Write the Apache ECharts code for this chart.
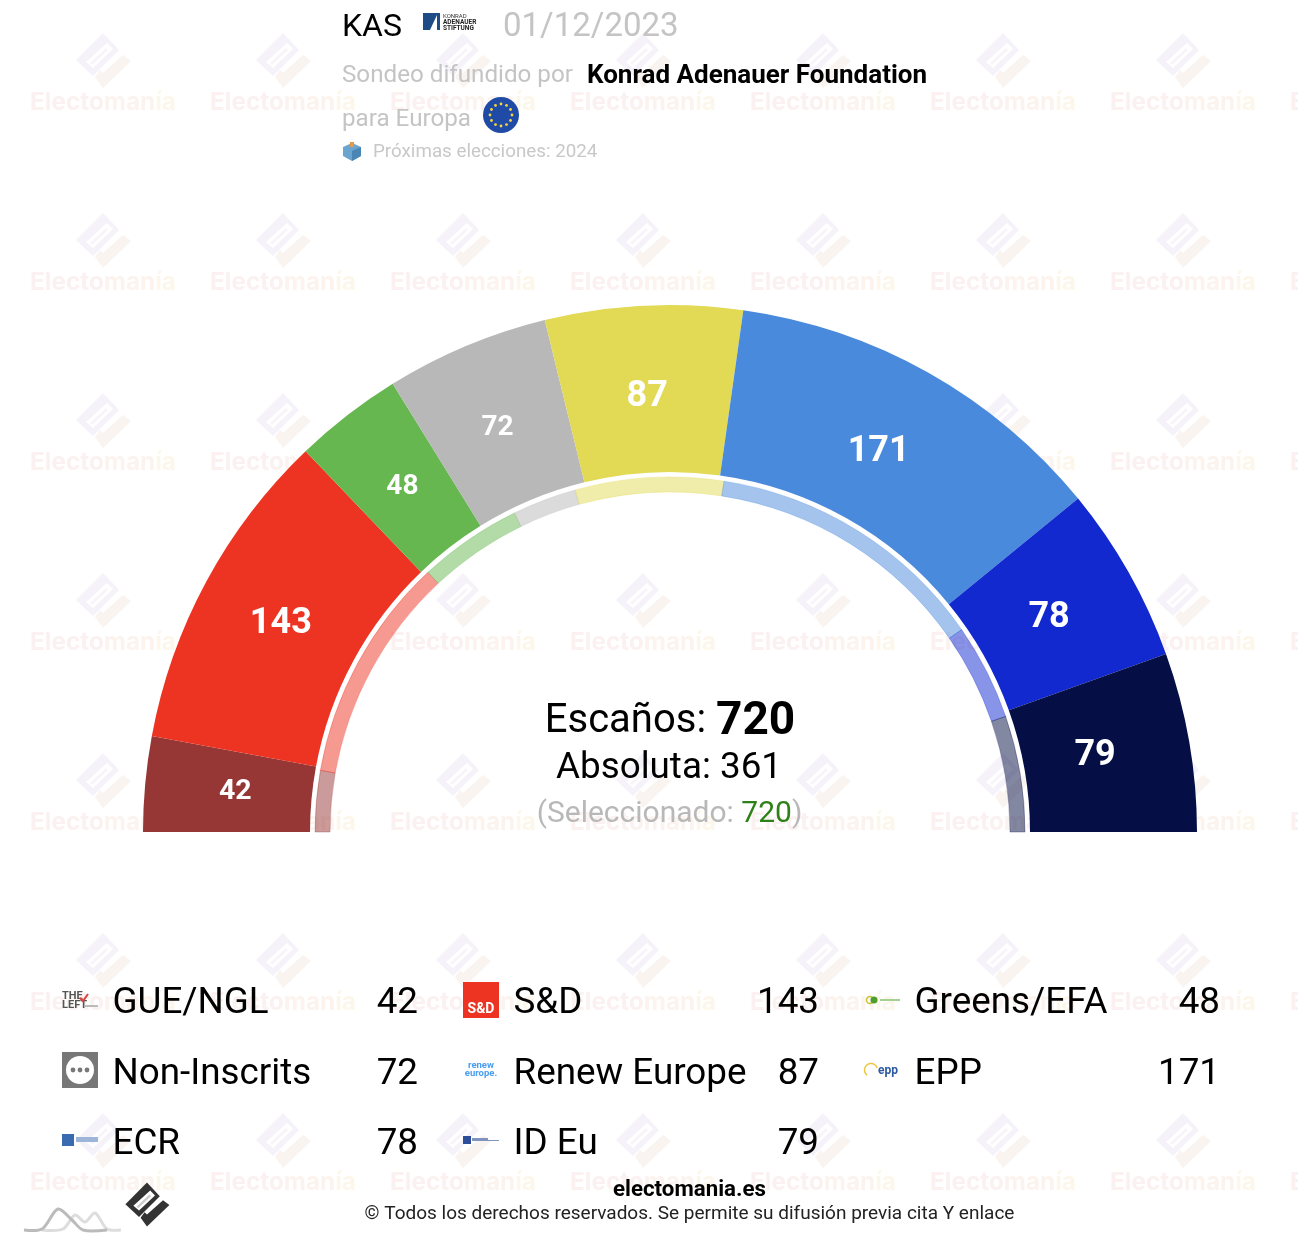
<!DOCTYPE html>
<html><head><meta charset="utf-8">
<style>html,body{margin:0;padding:0;background:#fff}#c{width:1298px;height:1244px}</style>
<script src="https://cdn.jsdelivr.net/npm/echarts@6/dist/echarts.min.js"></script>
</head><body><div id="c"></div>
<script>
const categories = ['GUE/NGL','S&D','Greens/EFA','Non-Inscrits','Renew Europe','EPP','ECR','ID Eu'];
const seats = [42,143,48,72,87,171,78,79];
const ringSeats = [40,148,68,42,97,186,63,76];
const colors = ['#963736','#ED3423','#67B751','#B8B8B8','#E2D955','#4A8ADD','#1229D0','#060F45'];
const labelSizes = [28.5,36,28,28,36,36,36,36];
const labelNudges = [[-1,0],[-6,-1],[-1,-1],[-4,-2],[-1,0],[-5,0],[0,0],[-4,-1]];
const totalSeats = 720, majority = 361, selected = 720;
const FONT = 'Roboto';
const chart = echarts.init(document.getElementById('c'));

function rgba(hex,a){const n=parseInt(hex.slice(1),16);return `rgba(${n>>16},${(n>>8)&255},${n&255},${a})`;}
function poly(points,fill,z){return {type:'polygon',silent:true,z:z,shape:{points},style:{fill}};}
function txt(x,y,text,size,fill,opt){opt=opt||{};return {type:'text',silent:true,z:opt.z==null?5:opt.z,x,y:y+size*0.09,style:{text,fontFamily:FONT,fontSize:size,fill,fontWeight:opt.w||'normal',align:opt.a||'left',verticalAlign:'middle'}};}
function icon(ox,oy,s,c1,c2,c3,z){
  const m=p=>p.map(q=>[ox+q[0]*s,oy+q[1]*s]);
  return [
    poly(m([[0,-68],[16,-51],[-10,-25],[-27,-41]]),c1,z),
    poly(m([[4,-58],[10,-52],[-10,-33],[-17,-39]]),'#fff',z),
    poly(m([[3,-53],[5,-51],[-11,-36],[-13,-38]]),c3,z),
    poly(m([[-8,-24],[0,-13],[28,-40],[20,-46],[0,-28],[-3,-31]]),c2,z)
  ];
}
const g=[];
// watermark grid
const wmRich={a:{fontFamily:'Inter',fontWeight:'bold',fontSize:24.3,fill:'#fbf1f0'},b:{fontFamily:'Inter',fontWeight:'bold',fontSize:24.3,fill:'#fcf3ee'},c:{fontFamily:'Inter',fontWeight:'bold',fontSize:24.3,fill:'#fdf6ea'}};
for(let cy=101;cy<1244;cy+=180){
  for(let cx=103;cx<1400;cx+=180){
    icon(cx,cy,1,'#f5f2f9','#faf4f0','#f8f5fa',0).forEach(e=>g.push(e));
    g.push({type:'text',silent:true,z:0,x:cx,y:cy+1.5,style:{text:'{a|Electo}{b|man}{c|ía}',align:'center',verticalAlign:'middle',rich:wmRich}});
  }
}
// header
g.push(txt(342,25,'KAS',32,'#000'));
g.push({type:'rect',silent:true,z:5,shape:{x:423,y:13,width:17,height:17},style:{fill:'#1d4b85'}});
g.push(poly([[430,30],[437,15],[437,30]],'#fff',6));
g.push(txt(443,16,'KONRAD',6,'#333'));
g.push(txt(443,22,'ADENAUER',6.5,'#222',{w:'bold'}));
g.push(txt(443,28,'STIFTUNG',6.5,'#222',{w:'bold'}));
g.push(txt(503,25,'01/12/2023',33,'#c4c4c4'));
g.push(txt(342,74,'Sondeo difundido por',24.2,'#c4c4c4'));
g.push(txt(587,74,'Konrad Adenauer Foundation',26,'#000',{w:'bold'}));
g.push(txt(342,118,'para Europa',24.2,'#c4c4c4'));
g.push({type:'circle',silent:true,z:5,shape:{cx:501,cy:115,r:18},style:{fill:'#1f4aa6'}});
for(let i=0;i<12;i++){const a=i*Math.PI/6;g.push({type:'circle',silent:true,z:6,shape:{cx:501+11*Math.cos(a),cy:115+11*Math.sin(a),r:1.4},style:{fill:'#f5d63d'}});}
g.push(poly([[343,147],[352,143],[361,147],[361,156],[352,161],[343,156]],'#6aa5cf',5));
g.push(poly([[352,151],[361,147],[361,156],[352,161]],'#4a86b3',5));
g.push({type:'rect',silent:true,z:5,shape:{x:350,y:142,width:4,height:5},style:{fill:'#e59a4a'}});
g.push(txt(373,151,'Próximas elecciones: 2024',18.8,'#c8c8c8'));
// centre
g.push({type:'text',silent:true,z:5,x:670,y:722,style:{text:'{a|Escaños: }{b|'+totalSeats+'}',align:'center',verticalAlign:'middle',rich:{a:{fontFamily:FONT,fontSize:40,fill:'#000'},b:{fontFamily:FONT,fontSize:46,fontWeight:'bold',fill:'#000'}}}});
g.push(txt(669,765,'Absoluta: '+majority,36.8,'#000',{a:'center'}));
g.push({type:'text',silent:true,z:5,x:669.5,y:814,style:{text:'{a|(Seleccionado: }{b|'+selected+'}{a|)}',align:'center',verticalAlign:'middle',rich:{a:{fontFamily:FONT,fontSize:30,fill:'#b8b8b8'},b:{fontFamily:FONT,fontSize:30,fill:'#2e8019'}}}});
// legend
const colX=[62,463,864], rowY=[1000,1071,1141], valX=[418,819,1220];
categories.forEach((c,i)=>{
  const col=i%3,row=Math.floor(i/3);
  g.push(txt(colX[col]+50.5,rowY[row],c,36.8,'#000'));
  g.push(txt(valX[col],rowY[row],String(seats[i]),36.8,'#000',{a:'right'}));
});
// legend logos
g.push(txt(62,995,'THE',11,'#555',{w:'bold'}));
g.push(txt(62,1004,'LEFT',11,'#555',{w:'bold'}));
g.push({type:'polyline',silent:true,z:5,shape:{points:[[80,998],[83,1001],[88,994]]},style:{stroke:'#d9413a',lineWidth:2,fill:null}});
g.push({type:'rect',silent:true,z:5,shape:{x:84,y:1005,width:14,height:2},style:{fill:'#bbb'}});
g.push({type:'rect',silent:true,z:5,shape:{x:463,y:982,width:36,height:36},style:{fill:'#ED3423'}});
g.push(txt(481,1008,'S&D',14,'#fff',{w:'bold',a:'center'}));
g.push({type:'circle',silent:true,z:5,shape:{cx:870,cy:1000,r:3.5},style:{fill:'none',stroke:'#c9c42e',lineWidth:1.5}});
g.push({type:'circle',silent:true,z:5,shape:{cx:874,cy:1000,r:3.5},style:{fill:'#4f9e2d'}});
g.push({type:'rect',silent:true,z:5,shape:{x:880,y:999,width:20,height:2},style:{fill:'#a6cf92'}});
g.push({type:'rect',silent:true,z:5,shape:{x:62,y:1052,width:36,height:36},style:{fill:'#777'}});
g.push({type:'circle',silent:true,z:5,shape:{cx:80,cy:1070,r:14},style:{fill:'#fff'}});
[73,80,87].forEach(x=>g.push({type:'circle',silent:true,z:6,shape:{cx:x,cy:1070,r:2.4},style:{fill:'#777'}}));
g.push(txt(481,1065,'renew',9.5,'#4a9df0',{w:'bold',a:'center'}));
g.push(txt(481,1072.5,'europe.',9.5,'#4a9df0',{w:'bold',a:'center'}));
g.push({type:'arc',silent:true,z:5,shape:{cx:871,cy:1070,r:6.5,startAngle:Math.PI*0.7,endAngle:Math.PI*1.9},style:{fill:null,stroke:'#f0c53a',lineWidth:1.5}});
g.push(txt(888,1070,'epp',12,'#2d5aa0',{w:'bold',a:'center'}));
g.push({type:'rect',silent:true,z:5,shape:{x:62,y:1134,width:12,height:12},style:{fill:'#3a6ab0'}});
g.push({type:'rect',silent:true,z:5,shape:{x:76,y:1137,width:22,height:5},style:{fill:'#9db5d8'}});
g.push({type:'rect',silent:true,z:5,shape:{x:463,y:1136,width:8,height:8},style:{fill:'#2c4d9a'}});
g.push({type:'rect',silent:true,z:5,shape:{x:472,y:1138,width:16,height:3},style:{fill:'#7f93c0'}});
g.push({type:'rect',silent:true,z:5,shape:{x:488,y:1140,width:11,height:1},style:{fill:'#7f93c0'}});
// footer
icon(147,1237,0.8,'#333','#333','#ccc',5).forEach(e=>g.push(e));
g.push({type:'polyline',silent:true,z:5,shape:{points:[[42,1230],[63,1229],[75,1215],[85,1222],[95,1213],[107,1229],[121,1230]],smooth:0.3},style:{stroke:'#ddd',lineWidth:3,fill:null}});
g.push({type:'polyline',silent:true,z:5,shape:{points:[[24,1230],[42,1229],[58,1209],[72,1220],[83,1230],[107,1230]],smooth:0.3},style:{stroke:'#bbb',lineWidth:3,fill:null}});
g.push(txt(689.5,1188,'electomania.es',22.3,'#000',{w:'bold',a:'center'}));
g.push(txt(689.5,1213,'© Todos los derechos reservados. Se permite su difusión previa cita Y enlace',19,'#222',{a:'center'}));

const base={type:'pie',center:[670,832],startAngle:180,endAngle:0,clockwise:true,silent:true,animation:false,avoidLabelOverlap:false,labelLine:{show:false},emphasis:{disabled:true}};
chart.setOption({
  backgroundColor:'#fff',
  graphic:{elements:g},
  series:[
    Object.assign({},base,{name:'Escaños',radius:[360,527],z:3,label:{show:false},
      data:categories.map((c,i)=>({name:c,value:seats[i],itemStyle:{color:colors[i]}}))}),
    Object.assign({},base,{name:'Etiquetas',radius:[338,527],z:4,
      data:categories.map((c,i)=>({name:c,value:seats[i],itemStyle:{color:'rgba(0,0,0,0)'},
        label:{show:true,position:'inside',offset:labelNudges[i],formatter:String(seats[i]),color:'#fff',fontFamily:FONT,fontWeight:'bold',fontSize:labelSizes[i]}}))}),
    Object.assign({},base,{name:'Seleccionado',radius:[340,355],z:3,label:{show:false},
      data:categories.map((c,i)=>({name:c,value:ringSeats[i],itemStyle:{color:rgba(colors[i],0.5),borderColor:rgba(colors[i],0.6),borderWidth:0.5}}))})
  ]
});
</script></body></html>
